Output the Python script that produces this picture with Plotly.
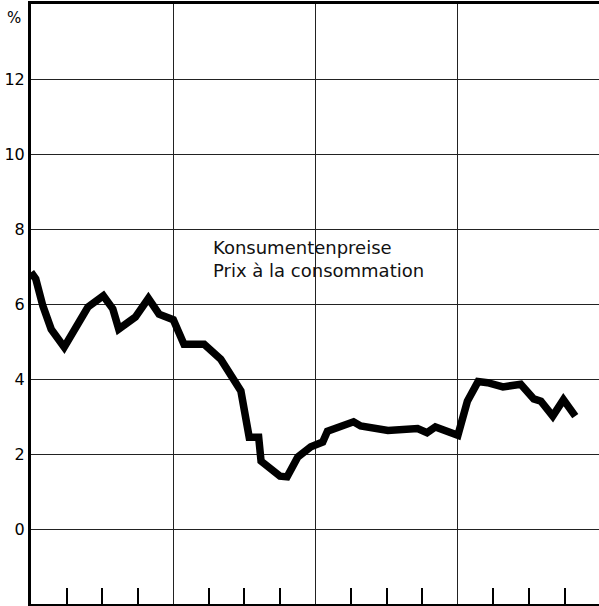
import plotly.graph_objects as go

# time in months from start (4 years = 48 months), values in %
months = [0.0, 0.4, 1.0, 1.7, 2.8, 3.8, 4.8, 6.1, 6.9, 7.4, 8.8, 9.9, 10.8, 12.0,
          12.9, 14.6, 16.0, 17.7, 18.4, 19.2, 19.4, 21.0, 21.6, 22.5, 23.6, 24.6,
          25.0, 27.2, 27.8, 30.1, 32.6, 33.4, 34.1, 36.0, 36.8, 37.7, 38.5, 39.8,
          41.3, 42.4, 43.0, 44.0, 44.9, 45.9]
cpi = [6.85, 6.67, 5.95, 5.33, 4.85, 5.39, 5.92, 6.22, 5.87, 5.33, 5.65, 6.15, 5.73, 5.58,
       4.93, 4.93, 4.53, 3.68, 2.45, 2.45, 1.81, 1.41, 1.39, 1.92, 2.19, 2.32,
       2.61, 2.86, 2.75, 2.63, 2.68, 2.57, 2.72, 2.5, 3.41, 3.93, 3.9, 3.79,
       3.86, 3.47, 3.41, 3.01, 3.45, 3.01]

y_ticks = [0, 2, 4, 6, 8, 10, 12]
y_labels = ["0", "2", "4", "6", "8", "10", "12"]
series_label = "Konsumentenpreise<br>Prix à la consommation"

fig = go.Figure()
fig.add_trace(go.Scatter(x=months, y=cpi, mode="lines",
                         line=dict(color="black", width=7.5), hoverinfo="skip"))

fig.update_layout(
    width=599, height=606,
    margin=dict(l=31, r=0, t=4, b=2),
    plot_bgcolor="white", paper_bgcolor="white",
    showlegend=False,
    font=dict(family="DejaVu Sans", color="black"),
    xaxis=dict(range=[0, 47.9], showline=True, linecolor="black", linewidth=3,
               mirror=True, tick0=0, dtick=12, showgrid=True, gridcolor="#222",
               gridwidth=1.2, ticks="", showticklabels=False, zeroline=False,
               automargin=False,
               minor=dict(tick0=0, dtick=3, ticks="inside", ticklen=16,
                          tickwidth=1.5, tickcolor="black", showgrid=False)),
    yaxis=dict(range=[-2, 14], showline=True, linecolor="black", linewidth=3,
               mirror=False, tickvals=y_ticks, ticktext=y_labels, showgrid=True,
               gridcolor="#222", gridwidth=1.2, ticks="", zeroline=False,
               automargin=False,
               ticklabelstandoff=0, tickfont=dict(size=16, family="DejaVu Sans")),
)

fig.add_annotation(x=0, xref="paper", y=1, yref="paper", text="%",
                   showarrow=False, xanchor="right", yanchor="top",
                   xshift=-8, yshift=-3, font=dict(size=15))
fig.add_annotation(x=15.2, y=7.85, text=series_label, showarrow=False,
                   xanchor="left", yanchor="top", align="left",
                   font=dict(size=18, color="#111"))

fig.write_html("out.html", config={"displayModeBar": False},
               post_script="document.body.style.margin='0';")
